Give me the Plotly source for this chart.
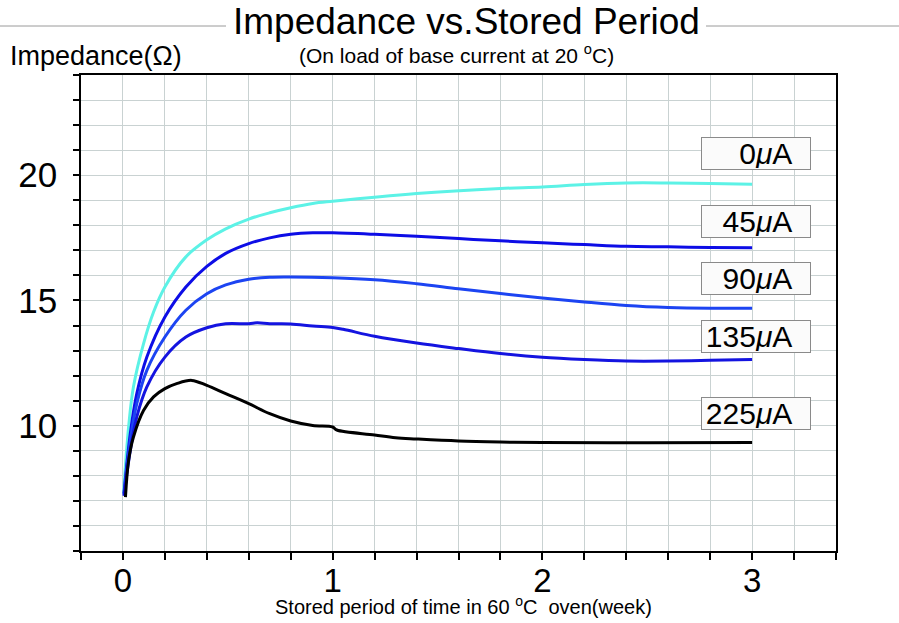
import plotly.graph_objects as go

# ---------------- data ----------------
x_0uA = [0.003, 0.027, 0.05, 0.098, 0.146, 0.2, 0.3, 0.4, 0.49, 0.6, 0.7, 0.8, 0.905, 1.0,
         1.4, 1.8, 2.0, 2.2, 2.4, 2.6, 2.8, 3.0]
y_0uA = [7.3, 9.95, 11.55, 13.27, 14.54, 15.54, 16.74, 17.42, 17.86, 18.25, 18.5, 18.7, 18.87, 18.96,
         19.27, 19.47, 19.53, 19.63, 19.69, 19.69, 19.67, 19.64]

x_45uA = [0.005, 0.035, 0.066, 0.114, 0.2, 0.3, 0.4, 0.49, 0.6, 0.7, 0.8, 0.905, 1.0,
          1.2, 1.4, 1.6, 1.8, 2.0, 2.2, 2.4, 2.6, 2.8, 3.0]
y_45uA = [7.3, 9.68, 11.28, 12.74, 14.34, 15.54, 16.36, 16.88, 17.27, 17.5, 17.64, 17.7, 17.7,
          17.64, 17.56, 17.47, 17.38, 17.3, 17.23, 17.16, 17.14, 17.11, 17.1]

x_90uA = [0.005, 0.035, 0.066, 0.114, 0.2, 0.3, 0.4, 0.49, 0.6, 0.7, 0.8, 1.0,
          1.2, 1.4, 1.6, 1.8, 2.0, 2.2, 2.4, 2.6, 2.8, 3.0]
y_90uA = [7.25, 9.41, 10.88, 12.21, 13.54, 14.61, 15.27, 15.62, 15.85, 15.93, 15.94, 15.91,
          15.83, 15.67, 15.47, 15.28, 15.1, 14.94, 14.8, 14.72, 14.69, 14.69]

x_135uA = [0.005, 0.035, 0.066, 0.114, 0.2, 0.3, 0.4, 0.49, 0.6, 0.64, 0.7, 0.8, 0.905, 1.0, 1.05,
           1.2, 1.4, 1.6, 1.8, 2.0, 2.2, 2.4, 2.6, 2.8, 3.0]
y_135uA = [7.2, 9.01, 10.35, 11.55, 12.74, 13.54, 13.91, 14.07, 14.07, 14.11, 14.07, 14.06, 13.98, 13.92, 13.85,
           13.57, 13.3, 13.08, 12.88, 12.73, 12.64, 12.58, 12.58, 12.61, 12.64]

x_225uA = [0.012, 0.027, 0.05, 0.098, 0.146, 0.2, 0.256, 0.328, 0.4, 0.49, 0.6, 0.7, 0.8, 0.905, 1.0,
           1.02, 1.2, 1.3, 1.4, 1.6, 1.8, 2.0, 2.5, 3.0]
y_225uA = [7.15, 8.62, 9.55, 10.61, 11.15, 11.48, 11.68, 11.81, 11.61, 11.28, 10.88, 10.48, 10.19, 10.01, 9.95,
           9.83, 9.63, 9.52, 9.47, 9.39, 9.35, 9.33, 9.32, 9.33]

series_names = ["0\u03bcA", "45\u03bcA", "90\u03bcA", "135\u03bcA", "225\u03bcA"]
series_x = [x_0uA, x_45uA, x_90uA, x_135uA, x_225uA]
series_y = [y_0uA, y_45uA, y_90uA, y_135uA, y_225uA]
series_colors = ["#5cf2e6", "#0d0de6", "#1c44f2", "#1414e0", "#000000"]

label_texts = ["0<i>\u03bc</i>A", "45<i>\u03bc</i>A", "90<i>\u03bc</i>A", "135<i>\u03bc</i>A", "225<i>\u03bc</i>A"]
label_y = [20.88, 18.14, 15.86, 13.55, 10.47]

x_tickvals = [0, 1, 2, 3]
y_tickvals = [10, 15, 20]

# ---------------- layout geometry ----------------
W, H = 899, 623
ML, MR, MT, MB = 81, 63, 75, 72
PW, PH = W - ML - MR, H - MT - MB


def px(xp):
    return (xp - ML) / PW


def py(yp):
    return 1 - (yp - MT) / PH


FONT = "Liberation Sans, Arial, sans-serif"

fig = go.Figure()
for name, xs, ys, col in zip(series_names, series_x, series_y, series_colors):
    fig.add_trace(go.Scatter(x=xs, y=ys, mode="lines", name=name,
                             line=dict(color=col, width=3, shape="spline", smoothing=1.0)))

GRID = "#c9d2d2"
fig.update_xaxes(range=[-0.2, 3.4], tickmode="array", tickvals=x_tickvals, automargin=False,
                 ticks="outside", ticklen=7, tickwidth=1.5, tickcolor="black",
                 showline=True, linecolor="black", linewidth=1.5, mirror=True,
                 showgrid=True, gridcolor=GRID, gridwidth=1, zeroline=False,
                 tickfont=dict(family=FONT, size=33, color="black"), ticklabelstandoff=-7,
                 minor=dict(tickmode="linear", tick0=0, dtick=0.2, ticks="outside", ticklen=7,
                            tickwidth=1.5, tickcolor="black", showgrid=True, gridcolor=GRID, gridwidth=1))
fig.update_yaxes(range=[5, 24], tickmode="array", tickvals=y_tickvals, automargin=False,
                 ticks="outside", ticklen=6, tickwidth=1.5, tickcolor="black",
                 showline=True, linecolor="black", linewidth=1.5, mirror=True,
                 showgrid=True, gridcolor=GRID, gridwidth=1, zeroline=False,
                 tickfont=dict(family=FONT, size=35, color="black"), ticklabelstandoff=9,
                 minor=dict(tickmode="linear", tick0=0, dtick=1, ticks="outside", ticklen=6,
                            tickwidth=1.5, tickcolor="black", showgrid=True, gridcolor=GRID, gridwidth=1))

annotations = []
for txt, yv in zip(label_texts, label_y):
    annotations.append(dict(x=3.02, y=yv, xref="x", yref="y", text=txt + "\u00a0\u00a0",
                            showarrow=False, align="right", width=106, height=29,
                            bordercolor="#8a8a8a", borderwidth=1, borderpad=1, bgcolor="#fbfbfb",
                            font=dict(family=FONT, size=30, color="black"),
                            xanchor="center", yanchor="middle"))

annotations += [
    dict(x=px(466), y=py(22), xref="paper", yref="paper", text="Impedance vs.Stored Period",
         showarrow=False, xanchor="center", yanchor="middle",
         font=dict(family=FONT, size=37, color="black")),
    dict(x=px(456), y=py(54), xref="paper", yref="paper",
         text="(On load of base current at 20 <sup>o</sup>C)",
         showarrow=False, xanchor="center", yanchor="middle",
         font=dict(family=FONT, size=21, color="black")),
    dict(x=px(8), y=py(56), xref="paper", yref="paper", text="Impedance(\u03a9)",
         showarrow=False, xanchor="left", yanchor="middle",
         font=dict(family=FONT, size=27, color="black")),
    dict(x=px(463), y=py(605), xref="paper", yref="paper",
         text="Stored period of time in 60 <sup>o</sup>C\u00a0 oven(week)",
         showarrow=False, xanchor="center", yanchor="middle",
         font=dict(family=FONT, size=20, color="black")),
]

shapes = [
    dict(type="line", xref="paper", yref="paper", x0=px(0), x1=px(226), y0=py(26), y1=py(26),
         line=dict(color="#9a9a9a", width=1)),
    dict(type="line", xref="paper", yref="paper", x0=px(706), x1=px(899), y0=py(26), y1=py(26),
         line=dict(color="#9a9a9a", width=1)),
]

fig.update_layout(width=W, height=H, margin=dict(l=ML, r=MR, t=MT, b=MB),
                  paper_bgcolor="white", plot_bgcolor="white", showlegend=False,
                  annotations=annotations, shapes=shapes,
                  font=dict(family=FONT, color="black"))

fig.write_html("out.html", config={"displayModeBar": False},
               post_script="document.body.style.margin='0';")
